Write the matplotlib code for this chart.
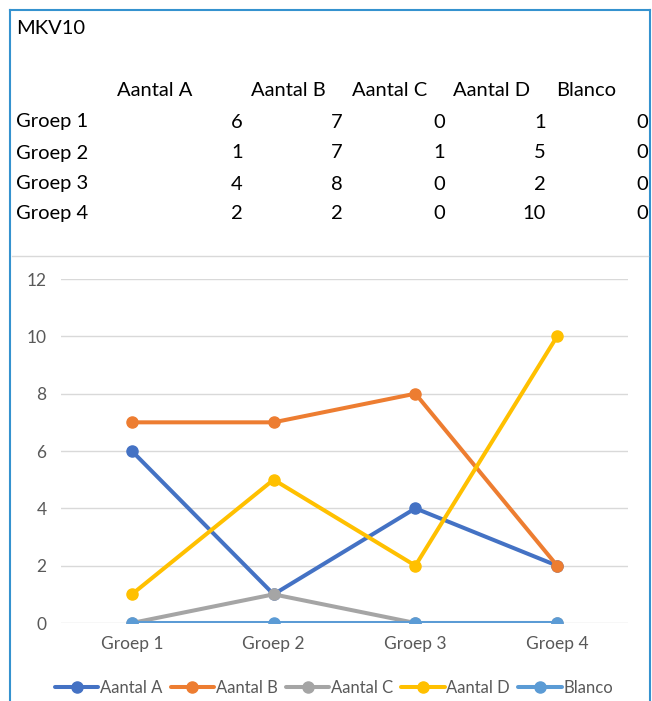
import numpy as np
import matplotlib
matplotlib.use("Agg")
import matplotlib.pyplot as plt
from matplotlib.lines import Line2D

plt.rcParams['font.family'] = ['Lato', 'DejaVu Sans']

# data
title = "MKV10"
groups = ["Groep 1", "Groep 2", "Groep 3", "Groep 4"]
series_names = ["Aantal A", "Aantal B", "Aantal C", "Aantal D", "Blanco"]
aantal_a = [6, 1, 4, 2]
aantal_b = [7, 7, 8, 2]
aantal_c = [0, 1, 0, 0]
aantal_d = [1, 5, 2, 10]
blanco = [0, 0, 0, 0]
yticks = [0, 2, 4, 6, 8, 10, 12]

colors = ["#4472C4", "#ED7D31", "#A5A5A5", "#FFC000", "#5B9BD5"]
W, H = 652, 701

def px(x, y):
    # pixel position (from top-left) -> figure fraction
    return x / W, 1 - y / H

fig = plt.figure(figsize=(W / 100, H / 100), dpi=100)

# sheet border (blue) and chart area top edge
bc = "#3592CF"
fig.add_artist(Line2D([10 / W, 650 / W], [1 - 10 / H, 1 - 10 / H], color=bc, lw=1.5))
fig.add_artist(Line2D([10 / W, 10 / W], [1 - 10 / H, 0], color=bc, lw=1.5))
fig.add_artist(Line2D([649.5 / W, 649.5 / W], [1 - 10 / H, 0], color=bc, lw=1.5))
fig.add_artist(Line2D([12 / W, 648 / W], [1 - 256 / H, 1 - 256 / H], color="#D9D9D9", lw=1))

# table on top
tfs = 14.5
fig.text(*px(16, 28), title, fontsize=tfs, va="center", ha="left", color="black")
head_x = [117, 251, 352, 453, 556]
for hx, name in zip(head_x, series_names):
    fig.text(*px(hx, 90), name, fontsize=tfs, va="center", ha="left")
cols = [aantal_a, aantal_b, aantal_c, aantal_d, blanco]
num_x = [243, 343, 445, 546, 648]
row_y = [122, 153, 184, 214]
for i, g in enumerate(groups):
    fig.text(*px(16, row_y[i]), g, fontsize=tfs, va="center", ha="left")
    for cx, col in zip(num_x, cols):
        fig.text(*px(cx, row_y[i]), str(col[i]), fontsize=tfs, va="center", ha="right")

# chart
ax = fig.add_axes([61 / W, 1 - 623 / H, (628 - 61) / W, (623 - 279) / H])
x = np.arange(len(groups))
for vals, name, c in zip(cols, series_names, colors):
    ax.plot(x, vals, color=c, lw=2.9, marker="o", markersize=8, label=name,
            solid_capstyle="round")

ax.set_xlim(-0.5, len(groups) - 0.5)
ax.set_ylim(0, 12)
ax.set_yticks(yticks)
ax.set_xticks(x)
ax.set_xticklabels(groups)
ax.grid(axis="y", color="#D9D9D9", lw=1)
ax.set_axisbelow(True)
for s in ax.spines.values():
    s.set_visible(False)
ax.tick_params(length=0, labelsize=12.5, labelcolor="#595959")
ax.tick_params(axis="y", pad=10.5)
ax.tick_params(axis="x", pad=9)

leg = fig.legend(loc="center", bbox_to_anchor=(px(334, 688)), ncol=5, frameon=False,
                 fontsize=12, handlelength=2.6, handletextpad=0.1, columnspacing=0.5,
                 borderaxespad=0)
for t in leg.get_texts():
    t.set_color("#595959")

fig.savefig("out.png", dpi=100)
